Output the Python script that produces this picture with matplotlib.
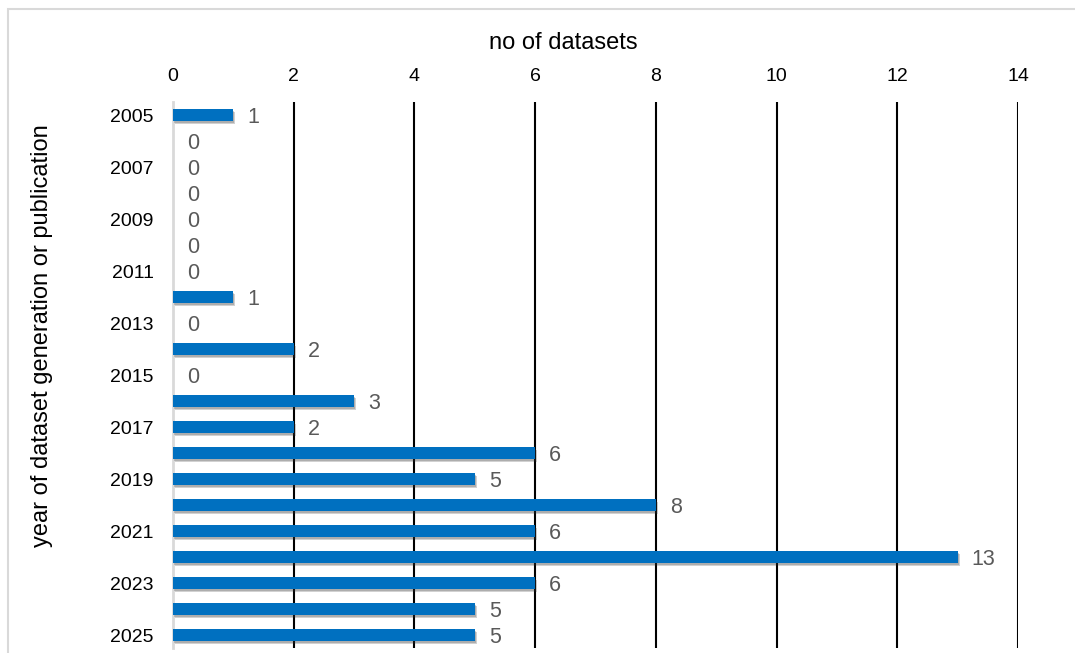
import matplotlib.pyplot as plt
import matplotlib.patheffects as pe
from matplotlib.patches import Rectangle

years = list(range(2005, 2026))
counts = [1, 0, 0, 0, 0, 0, 0, 1, 0, 2, 0, 3, 2, 6, 5, 8, 6, 13, 6, 5, 5]
tick_years = years[::2]
x_ticks = [0, 2, 4, 6, 8, 10, 12, 14]

plt.rcParams['font.family'] = ['Liberation Sans', 'DejaVu Sans']

W, H = 1075, 653
fig = plt.figure(figsize=(W / 100, H / 100), dpi=100)
ax = fig.add_axes([173 / W, 1 - 648 / H, (1018 - 173) / W, (648 - 102) / H])

# light frame around the chart area
fig.patches.append(Rectangle((8 / W, -0.1), 1.2, 1 - 9 / H + 0.1,
                             transform=fig.transFigure, fill=False,
                             edgecolor='#d9d9d9', linewidth=1.5))

bars = ax.barh(years, counts, height=0.46, color='#0070C0', zorder=3)
for b in bars:
    b.set_path_effects([pe.SimplePatchShadow(offset=(1.5, -2.5), alpha=0.22,
                                             shadow_rgbFace='#303030'),
                        pe.SimplePatchShadow(offset=(0.8, -1.3), alpha=0.22,
                                             shadow_rgbFace='#303030'),
                        pe.Normal()])

for y, c in zip(years, counts):
    ax.annotate(str(c), (c, y), xytext=(10, -1.5), textcoords='offset points',
                ha='left', va='center', fontsize=15.5, color='#595959')

ax.set_xlim(0, 14)
ax.set_ylim(2025.5, 2004.5)
ax.set_xticks(x_ticks)
ax.set_yticks(tick_years)
ax.xaxis.tick_top()
ax.tick_params(axis='both', length=0, labelsize=14, colors='black')
ax.tick_params(axis='x', pad=12)
ax.tick_params(axis='y', pad=14)

for xv in x_ticks[1:]:
    ax.axvline(xv, color='black', linewidth=1.5, zorder=1)
for side in ['top', 'right', 'bottom']:
    ax.spines[side].set_visible(False)
ax.spines['left'].set_color('#d9d9d9')
ax.spines['left'].set_linewidth(2)

fig.text(563 / W, 1 - 43 / H, 'no of datasets',
         ha='center', va='center', fontsize=17)
fig.text(42 / W, 1 - 336 / H, 'year of dataset generation or publication',
         rotation=90, ha='center', va='center', fontsize=17)

fig.savefig('out.png', dpi=100)
